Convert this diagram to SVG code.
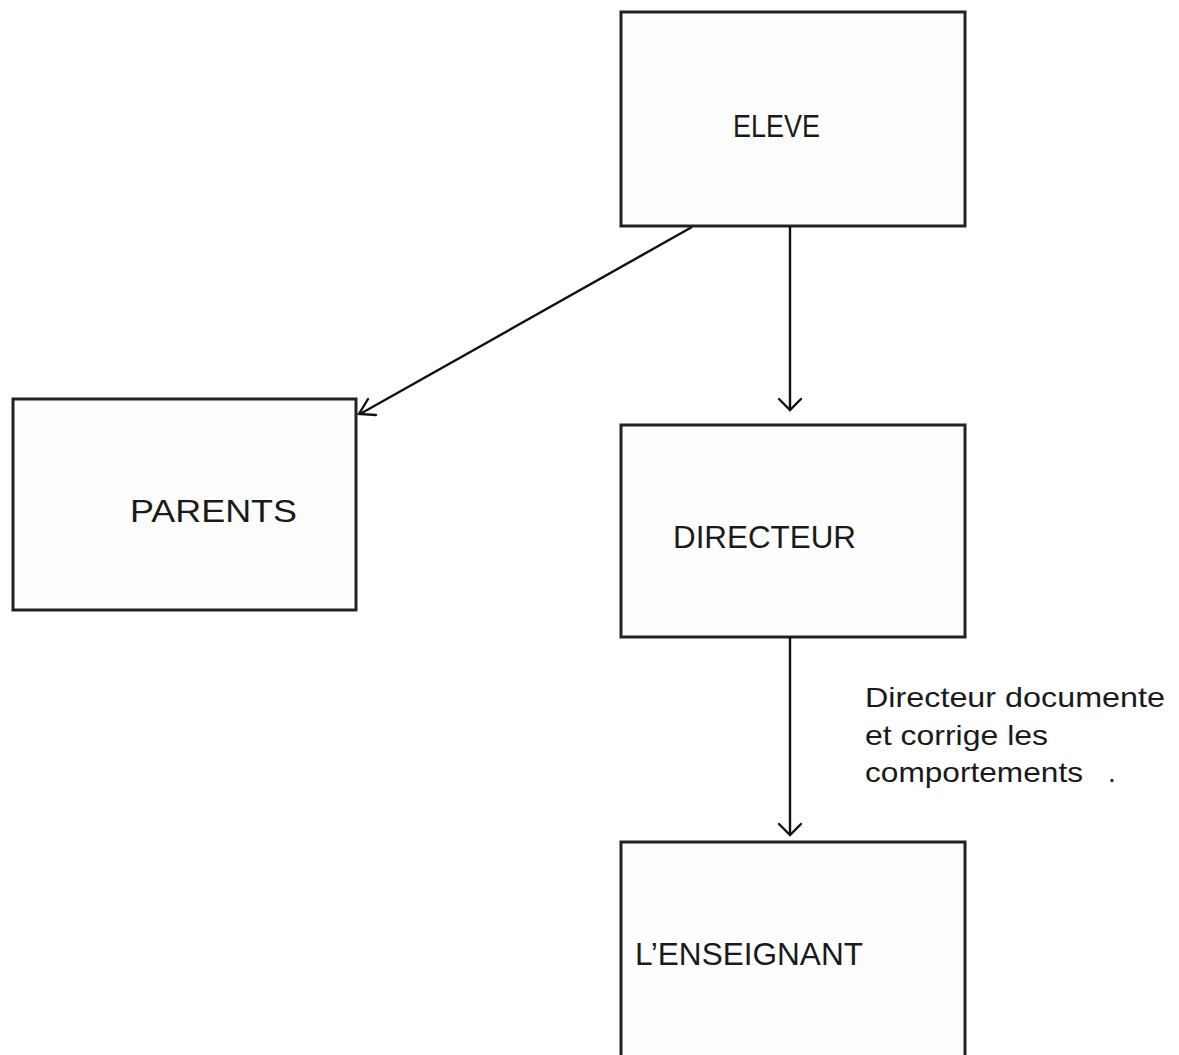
<svg xmlns="http://www.w3.org/2000/svg" width="1179" height="1055" viewBox="0 0 1179 1055">
<style>
.box{fill:#fdfdfd;stroke:#222;stroke-width:3}
.lbl{font-family:"Liberation Sans",Arial,sans-serif;font-size:31px;fill:#1a1a1a}
.note{font-family:"Liberation Sans",Arial,sans-serif;font-size:28px;fill:#1a1a1a}
.conn{stroke:#111;stroke-width:2.4;fill:none}
.head{stroke:#111;stroke-width:2.4;fill:none;stroke-linecap:round;stroke-linejoin:miter}
</style>
<rect width="1179" height="1055" fill="#ffffff"/>
<g id="eleve">
<rect class="box" x="621" y="12" width="344" height="214"/>
<text class="lbl" x="733" y="137" textLength="87" lengthAdjust="spacingAndGlyphs">ELEVE</text>
</g>
<g id="parents">
<rect class="box" x="13" y="399" width="343" height="211"/>
<text class="lbl" x="130" y="522" textLength="167" lengthAdjust="spacingAndGlyphs">PARENTS</text>
</g>
<g id="directeur">
<rect class="box" x="621" y="425" width="344" height="212"/>
<text class="lbl" x="673" y="548" textLength="183" lengthAdjust="spacingAndGlyphs">DIRECTEUR</text>
</g>
<g id="enseignant">
<rect class="box" x="621" y="842" width="344" height="230"/>
<text class="lbl" x="635" y="965" textLength="228" lengthAdjust="spacingAndGlyphs">L’ENSEIGNANT</text>
</g>
<g id="connectors">
<line class="conn" x1="692" y1="227" x2="360" y2="414"/>
<polyline class="head" points="368,399 359,414 376,415"/>
<line class="conn" x1="790" y1="226" x2="790" y2="410"/>
<polyline class="head" points="779,399 790,410 801,399"/>
<line class="conn" x1="790" y1="637" x2="790" y2="835"/>
<polyline class="head" points="779,824 790,835 801,824"/>
</g>
<g id="note">
<text class="note" x="865" y="707" textLength="300" lengthAdjust="spacingAndGlyphs">Directeur documente</text>
<text class="note" x="865" y="745" textLength="183" lengthAdjust="spacingAndGlyphs">et corrige les</text>
<text class="note" x="865" y="782" textLength="218" lengthAdjust="spacingAndGlyphs">comportements</text>
<text class="note" x="1108" y="782">.</text>
</g>
</svg>
